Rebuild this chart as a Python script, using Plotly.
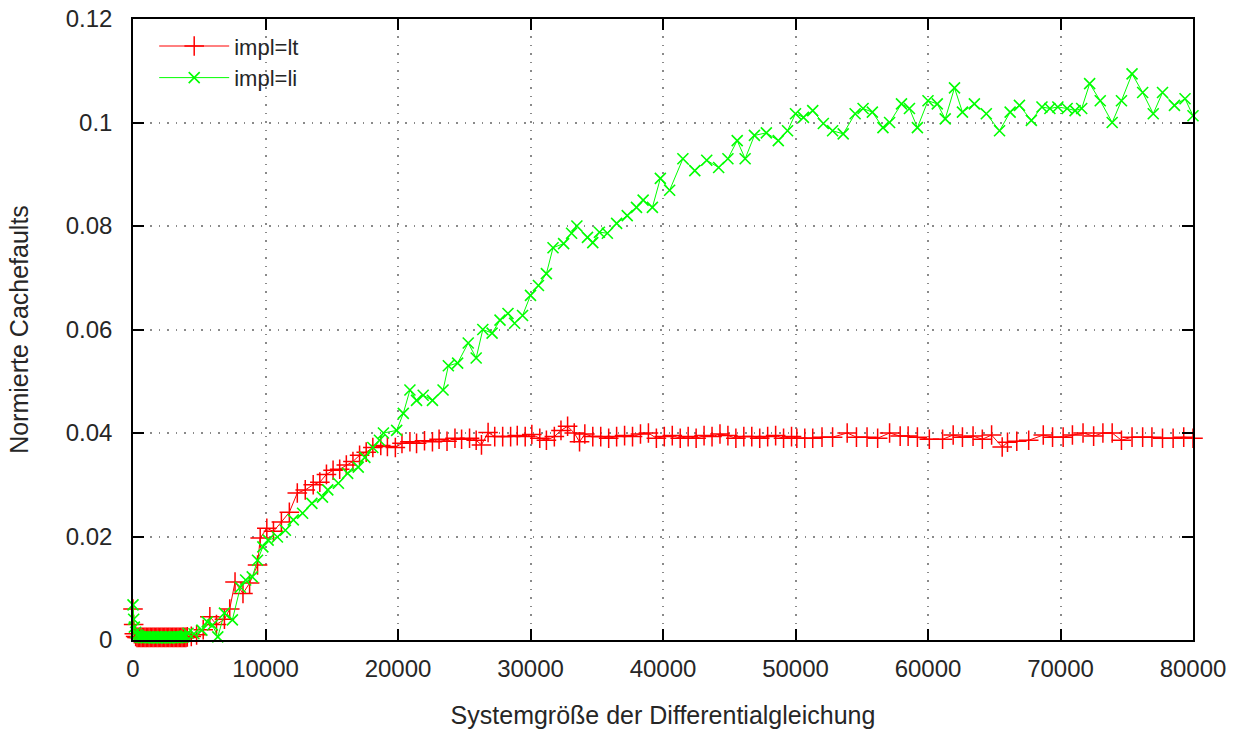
import plotly.graph_objects as go

# ---- data ----
lt_x = [0, 50, 100, 200, 300, 400, 500, 600, 700, 800, 900, 1000, 1100, 1200, 1300, 1400,
        1500, 1600, 1700, 1800, 1900, 2000, 2100, 2200, 2300, 2400, 2500, 2600, 2700, 2800,
        2900, 3000, 3100, 3200, 3300, 3400, 3500, 3600, 3700, 3800, 3900, 4000, 4100,
        4400, 4800, 5300, 5800, 6300, 6900,
        7300, 7700, 8300, 8800, 9400, 9600, 10100, 10600, 11200, 11800, 12400, 13000, 13600,
        14100, 14600, 15100, 15600, 16100, 16600, 17100, 17600, 18100, 18700, 19200, 19800,
        20300, 20900, 21400, 22000, 22600, 23100, 23700, 24300, 24800, 25400, 25900, 26300,
        26800, 27300, 27900, 28500, 29000, 29600, 30100, 30700, 31200, 31800, 32300, 32800,
        33300, 33700, 34100, 34700, 35300, 35900, 36500, 37100, 37700, 38300, 38900, 39500,
        40100, 40700, 41300, 41900, 42500, 43100, 43700, 44300, 44900, 45500, 46100, 46700,
        47300, 47900, 48500, 49100, 49700, 50100, 50700, 51300, 52000, 52800, 53900, 54600,
        55400, 56200, 57100, 57900, 58500, 59200, 60100, 61100, 61900, 62600, 63400, 64100,
        64800, 65600, 66000, 66700, 67600, 68700, 69400, 70200, 70900, 71700, 72500, 73200,
        73900, 74600, 75400, 76200, 76900, 77700, 78500, 79300, 80000]
lt_y = [0.0060, 0.0030, 0.0012, 0.0007, 0.0005, 0.0005, 0.0005, 0.0005, 0.0005, 0.0005,
        0.0005, 0.0005, 0.0005, 0.0005, 0.0005, 0.0005, 0.0005, 0.0005, 0.0005, 0.0005,
        0.0005, 0.0005, 0.0005, 0.0005, 0.0005, 0.0005, 0.0005, 0.0005, 0.0005, 0.0005,
        0.0005, 0.0005, 0.0005, 0.0005, 0.0005, 0.0005, 0.0005, 0.0005, 0.0005, 0.0005,
        0.0005, 0.0005, 0.0006,
        0.0007, 0.0010, 0.0020, 0.0045, 0.0030, 0.0040, 0.0060, 0.0112, 0.0090,
        0.0110, 0.0145, 0.0197, 0.0216, 0.0210, 0.0228, 0.0247, 0.0284, 0.0290, 0.0300, 0.0305,
        0.0320, 0.0328, 0.0330, 0.0338, 0.0345, 0.0357, 0.0363, 0.0372, 0.0376, 0.0374, 0.0372,
        0.0380, 0.0383, 0.0380, 0.0385, 0.0383, 0.0388, 0.0384, 0.0390, 0.0388, 0.0390, 0.0386,
        0.0377, 0.0401, 0.0393, 0.0393, 0.0393, 0.0395, 0.0393, 0.0397, 0.0390, 0.0386, 0.0393,
        0.0405, 0.0413, 0.0400, 0.0383, 0.0398, 0.0393, 0.0393, 0.0390, 0.0393, 0.0395, 0.0393,
        0.0398, 0.0400, 0.0390, 0.0393, 0.0395, 0.0390, 0.0393, 0.0390, 0.0395, 0.0393, 0.0398,
        0.0395, 0.0390, 0.0393, 0.0393, 0.0390, 0.0393, 0.0395, 0.0390, 0.0393, 0.0390, 0.0390,
        0.0390, 0.0392, 0.0392, 0.0400, 0.0392, 0.0392, 0.0390, 0.0400, 0.0394, 0.0394, 0.0392,
        0.0388, 0.0388, 0.0396, 0.0392, 0.0394, 0.0388, 0.0396, 0.0373, 0.0382, 0.0384, 0.0386,
        0.0396, 0.0392, 0.0392, 0.0396, 0.0400, 0.0394, 0.0400, 0.0400, 0.0386, 0.0392, 0.0392,
        0.0392, 0.0390, 0.0390, 0.0392, 0.0390]

li_x = [0, 50, 100, 200, 300, 400, 500, 600, 700, 800, 900, 1000, 1100, 1200, 1300, 1400,
        1500, 1600, 1700, 1800, 1900, 2000, 2100, 2200, 2300, 2400, 2500, 2600, 2700, 2800,
        2900, 3000, 3100, 3200, 3300, 3400, 3500, 3600, 3700, 3800, 3900, 4000, 4150,
        4600, 5200, 5600, 6000, 6400, 6900,
        7500, 8100, 8500, 9000, 9400, 9800, 10200, 10900, 11500, 12100, 12800, 13500, 14300,
        14700, 15500, 16200, 17000, 17500, 18100, 18600, 18900, 19900, 20400, 20900, 21400,
        21900, 22600, 23400, 23800, 24500, 25300, 25900, 26400, 27100, 27700, 28300, 28800,
        29400, 30000, 30600, 31200, 31700, 32500, 33100, 33500, 34300, 34700, 35200, 35800,
        36500, 37300, 38000, 38500, 39200, 39800, 40500, 41500, 42400, 43300, 44200, 44900,
        45600, 46200, 46900, 47800, 48700, 49400, 50000, 50600, 51300, 52100, 52800, 53600,
        54500, 55100, 55800, 56600, 57100, 58000, 58600, 59200, 60000, 60700, 61300, 62000,
        62600, 63500, 64400, 65400, 66200, 66900, 67800, 68600, 69200, 69800, 70500, 71100,
        71600, 72200, 73000, 73900, 74600, 75400, 76200, 77000, 77700, 78600, 79400, 80000]
li_y = [0.0068, 0.0040, 0.0025, 0.0015, 0.0010, 0.0008, 0.0006, 0.0005, 0.0006, 0.0004,
        0.0006, 0.0004, 0.0006, 0.0004, 0.0006, 0.0004, 0.0006, 0.0004, 0.0006, 0.0004,
        0.0006, 0.0004, 0.0006, 0.0004, 0.0006, 0.0004, 0.0006, 0.0004, 0.0006, 0.0004,
        0.0006, 0.0004, 0.0006, 0.0004, 0.0006, 0.0004, 0.0006, 0.0005, 0.0006, 0.0006,
        0.0007, 0.0008, 0.0013,
        0.0012, 0.0019, 0.0035, 0.0029, 0.0006, 0.0052, 0.0039, 0.0102, 0.0116,
        0.0122, 0.0154, 0.0180, 0.0193, 0.0199, 0.0212, 0.0232, 0.0245, 0.0264, 0.0276, 0.0290,
        0.0303, 0.0322, 0.0334, 0.0353, 0.0372, 0.0386, 0.0400, 0.0405, 0.0438, 0.0483, 0.0463,
        0.0473, 0.0463, 0.0483, 0.0530, 0.0535, 0.0574, 0.0545, 0.0600, 0.0593, 0.0618, 0.0631,
        0.0612, 0.0627, 0.0666, 0.0685, 0.0708, 0.0758, 0.0766, 0.0786, 0.0800, 0.0778, 0.0768,
        0.0788, 0.0786, 0.0805, 0.0820, 0.0836, 0.0850, 0.0836, 0.0892, 0.0869, 0.0930, 0.0907,
        0.0927, 0.0913, 0.0930, 0.0965, 0.0930, 0.0975, 0.0980, 0.0965, 0.0984, 0.1017, 0.1010,
        0.1023, 0.0998, 0.0984, 0.0978, 0.1017, 0.1027, 0.1020, 0.0990, 0.1000, 0.1036, 0.1027,
        0.0990, 0.1042, 0.1036, 0.1007, 0.1067, 0.1020, 0.1036, 0.1017, 0.0984, 0.1020, 0.1033,
        0.1004, 0.1030, 0.1027, 0.1030, 0.1027, 0.1023, 0.1027, 0.1075, 0.1042, 0.1000, 0.1042,
        0.1094, 0.1058, 0.1017, 0.1058, 0.1033, 0.1046, 0.1013]

x_ticks = [0, 10000, 20000, 30000, 40000, 50000, 60000, 70000, 80000]
y_ticks = [0, 0.02, 0.04, 0.06, 0.08, 0.1, 0.12]
y_tick_text = ["0", "0.02", "0.04", "0.06", "0.08", "0.1", "0.12"]

FONT = "Liberation Sans, Arial, sans-serif"
TXT = "#262626"

fig = go.Figure()
fig.add_trace(go.Scatter(
    x=lt_x, y=lt_y, name="impl=lt", mode="lines+markers",
    line=dict(color="#ff0000", width=1),
    marker=dict(symbol="cross-thin", size=14, color="#ff0000",
                line=dict(color="#ff0000", width=1.5)),
    cliponaxis=False,
))
fig.add_trace(go.Scatter(
    x=li_x, y=li_y, name="impl=li", mode="lines+markers",
    line=dict(color="#00ff00", width=1),
    marker=dict(symbol="x-thin", size=11, color="#00ff00",
                line=dict(color="#00ff00", width=1.6)),
    cliponaxis=False,
))

axis_common = dict(
    showline=True, linecolor="black", linewidth=1.5, mirror="ticks",
    ticks="inside", ticklen=11, tickwidth=1.5, tickcolor="black",
    showgrid=True, gridcolor="#8a8a8a", griddash="1.5px,7px", gridwidth=1.5,
    zeroline=False, automargin=False,
    tickfont=dict(family=FONT, size=24, color=TXT),
)

fig.update_xaxes(
    range=[0, 80000], tickvals=x_ticks, ticktext=[str(v) for v in x_ticks],
    title=dict(text="Systemgröße der Differentialgleichung",
               font=dict(family=FONT, size=25, color=TXT), standoff=26),
    ticklabelstandoff=6,
    **axis_common,
)
fig.update_yaxes(
    range=[0, 0.12], tickvals=y_ticks, ticktext=y_tick_text,
    title=dict(text="Normierte Cachefaults",
               font=dict(family=FONT, size=25, color=TXT), standoff=30),
    ticklabelstandoff=14,
    **axis_common,
)

fig.update_layout(
    width=1239, height=733,
    margin=dict(l=133, r=46, t=19, b=93),
    paper_bgcolor="white", plot_bgcolor="white",
    showlegend=True,
    legend=dict(
        x=0.02, y=0.99, xanchor="left", yanchor="top",
        bgcolor="rgba(0,0,0,0)", borderwidth=0,
        font=dict(family=FONT, size=22, color=TXT),
        itemwidth=70, tracegroupgap=0,
    ),
)

fig.write_html("out.html")
